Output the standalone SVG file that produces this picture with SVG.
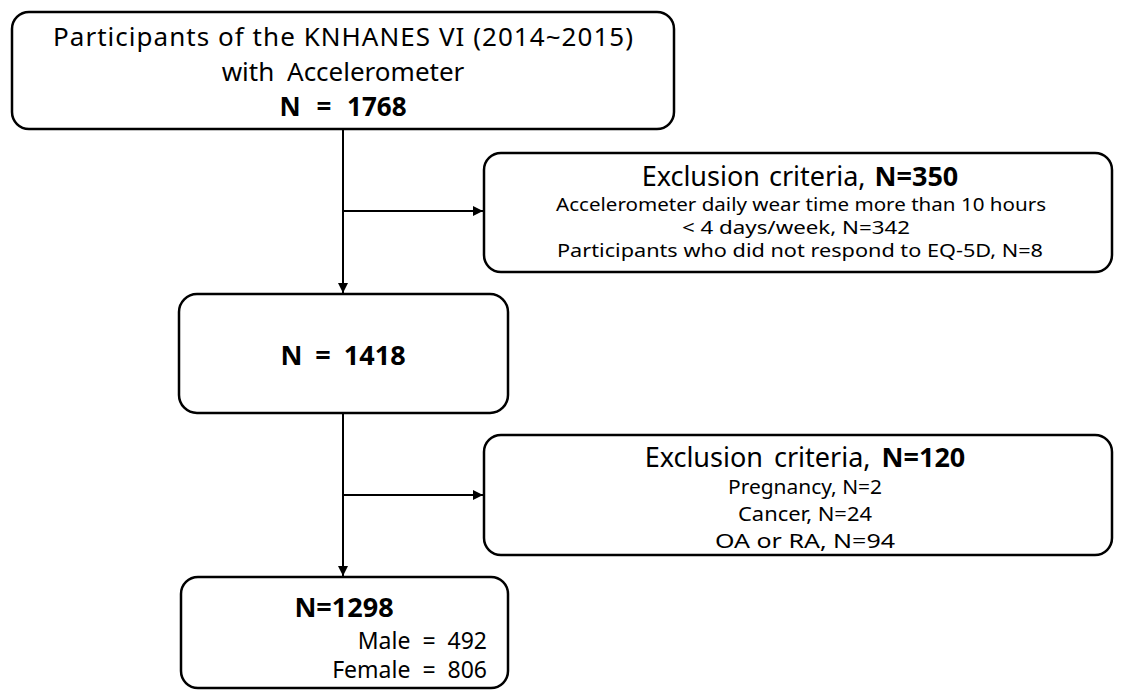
<svg xmlns="http://www.w3.org/2000/svg" width="1122" height="693" viewBox="0 0 1122 693">
<style>
.box{fill:#fff;stroke:#000;stroke-width:2.5}
.t{font-family:"Noto Sans","Open Sans",sans-serif;fill:#000;text-anchor:middle}
.h{font-size:27px}
.h1{font-size:26px}
.m{font-size:23px}
.sm{font-size:20px}
.xs{font-size:18px}
.b{font-weight:bold}
.con{stroke:#000;stroke-width:2;fill:none}
</style>
<defs>
<marker id="ah" viewBox="0 0 10 10" refX="10" refY="5" markerWidth="5" markerHeight="5" orient="auto" markerUnits="strokeWidth">
<path d="M0,0 L10,5 L0,10 z" fill="#000"/>
</marker>
</defs>
<rect width="1122" height="693" fill="#fff"/>
<g id="connectors">
<line class="con" x1="343" y1="129" x2="343" y2="293" marker-end="url(#ah)"/>
<line class="con" x1="343" y1="211" x2="483" y2="211" marker-end="url(#ah)"/>
<line class="con" x1="343" y1="413" x2="343" y2="576" marker-end="url(#ah)"/>
<line class="con" x1="343" y1="495" x2="483" y2="495" marker-end="url(#ah)"/>
</g>
<g id="n1">
<rect class="box" x="12" y="12" width="662" height="117" rx="17"/>
<text class="t h1" x="343" y="46" textLength="580" lengthAdjust="spacing">Participants of the KNHANES VI (2014~2015)</text>
<text class="t h1" x="343" y="81" word-spacing="6">with Accelerometer</text>
<text class="t h1 b" x="343" y="116" word-spacing="9">N = 1768</text>
</g>
<g id="ex1">
<rect class="box" x="484" y="153" width="628" height="119" rx="17"/>
<text class="t h" x="800" y="186" word-spacing="2">Exclusion criteria, <tspan class="b">N=350</tspan></text>
<text class="t xs" x="801" y="211" textLength="490" lengthAdjust="spacingAndGlyphs">Accelerometer daily wear time more than 10 hours</text>
<text class="t xs" x="796" y="234" textLength="228" lengthAdjust="spacingAndGlyphs">&lt; 4 days/week, N=342</text>
<text class="t xs" x="800" y="257" textLength="486" lengthAdjust="spacingAndGlyphs">Participants who did not respond to EQ-5D, N=8</text>
</g>
<g id="n2">
<rect class="box" x="179" y="294" width="329" height="119" rx="18"/>
<text class="t h b" x="343" y="365" word-spacing="6">N = 1418</text>
</g>
<g id="ex2">
<rect class="box" x="484" y="435" width="628" height="120" rx="17"/>
<text class="t h" x="805" y="467" word-spacing="4">Exclusion criteria, <tspan class="b">N=120</tspan></text>
<text class="t sm" x="805" y="494" textLength="154" lengthAdjust="spacingAndGlyphs">Pregnancy, N=2</text>
<text class="t sm" x="805" y="521" textLength="134" lengthAdjust="spacingAndGlyphs">Cancer, N=24</text>
<text class="t sm" x="805" y="548" textLength="180" lengthAdjust="spacingAndGlyphs">OA or RA, N=94</text>
</g>
<g id="n3">
<rect class="box" x="181" y="577" width="327" height="111" rx="17"/>
<text class="t h b" x="344" y="617">N=1298</text>
<text class="t m" x="487" y="649" style="text-anchor:end" word-spacing="6">Male = 492</text>
<text class="t m" x="487" y="678" style="text-anchor:end" word-spacing="6">Female = 806</text>
</g>
</svg>
